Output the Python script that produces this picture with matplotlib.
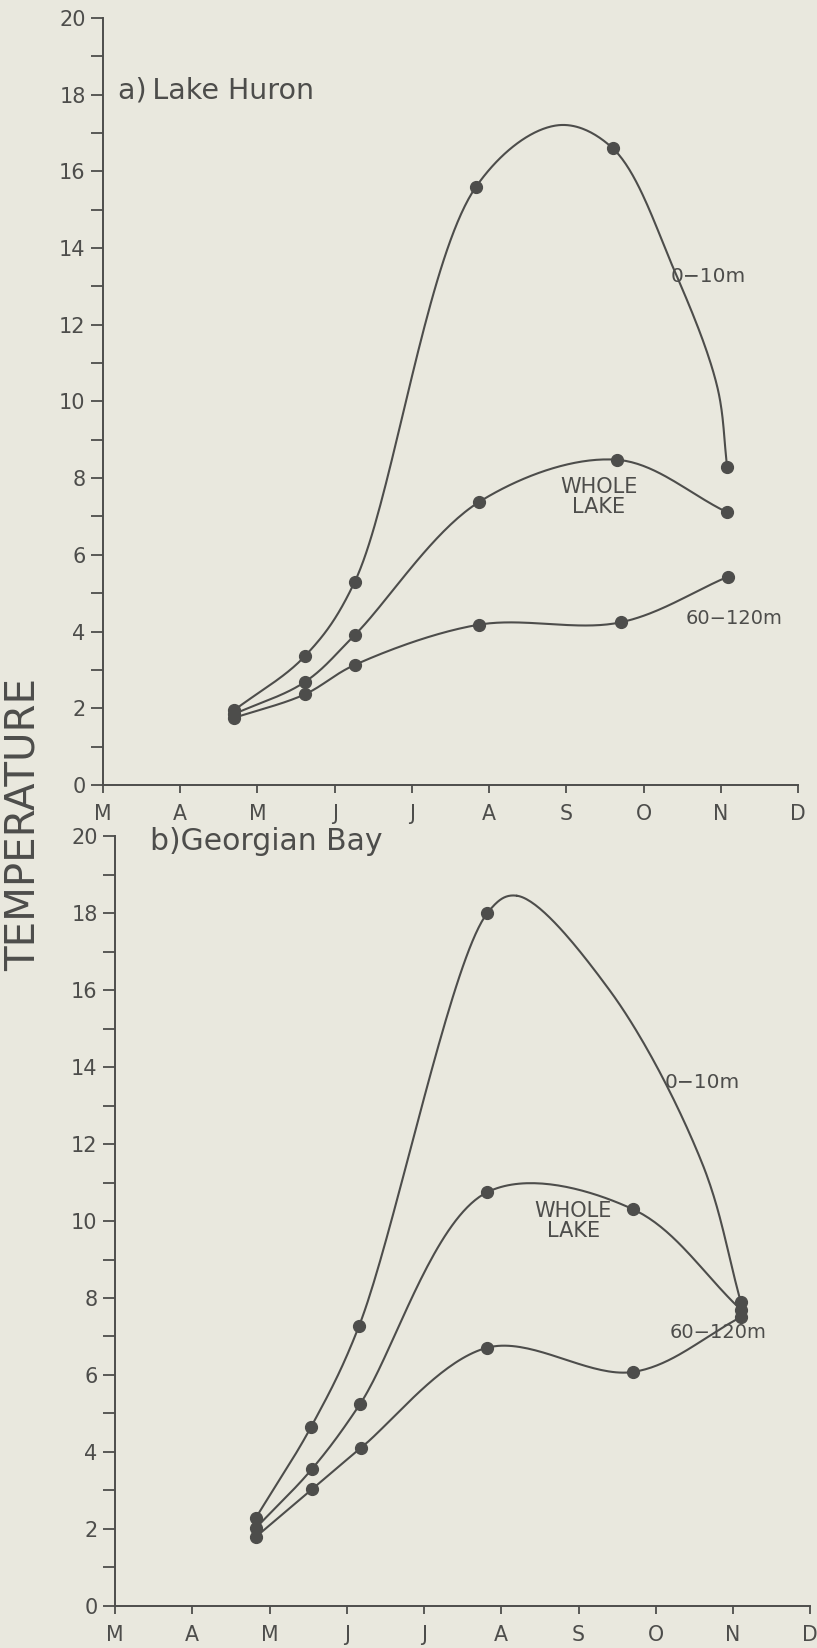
import numpy as np
import matplotlib
matplotlib.use("Agg")
import matplotlib.pyplot as plt

plt.rcParams['font.family'] = ['DejaVu Sans']

months = ["M", "A", "M", "J", "J", "A", "S", "O", "N", "D"]

# x in months after 1 March, y in degrees C
# a) Lake Huron
huron_surf_x = [1.70, 2.61, 3.26, 4.83, 6.60, 8.08]
huron_surf_y = [1.95, 3.35, 5.30, 15.6, 16.6, 8.3]
huron_whole_x = [1.70, 2.61, 3.26, 4.87, 6.65, 8.08]
huron_whole_y = [1.85, 2.68, 3.91, 7.38, 8.48, 7.11]
huron_deep_x = [1.70, 2.61, 3.26, 4.87, 6.70, 8.09]
huron_deep_y = [1.75, 2.36, 3.13, 4.18, 4.24, 5.43]
huron_surf_line_x = [5.88, 7.40, 7.95]
huron_surf_line_y = [17.2, 13.4, 10.4]

# b) Georgian Bay
bay_surf_x = [1.82, 2.54, 3.16, 4.82, 8.10]
bay_surf_y = [2.28, 4.66, 7.28, 18.0, 7.9]
bay_whole_x = [1.82, 2.55, 3.17, 4.82, 6.71, 8.10]
bay_whole_y = [2.02, 3.56, 5.24, 10.75, 10.3, 7.7]
bay_deep_x = [1.82, 2.55, 3.18, 4.82, 6.71, 8.10]
bay_deep_y = [1.79, 3.03, 4.10, 6.71, 6.08, 7.5]
bay_surf_line_x = [5.20, 6.40, 7.60]
bay_surf_line_y = [18.45, 16.0, 11.5]

ink = "#4d4d4b"
paper = "#e9e8de"


def smooth(xs, ys, n=40, sx=2.0):
    # centripetal Catmull-Rom through the points
    P = np.column_stack([np.asarray(xs) * sx, np.asarray(ys)])
    P = np.vstack([2 * P[0] - P[1], P, 2 * P[-1] - P[-2]])
    out = []
    for i in range(1, len(P) - 2):
        p0, p1, p2, p3 = P[i - 1], P[i], P[i + 1], P[i + 2]
        t0 = 0.0
        t1 = t0 + np.linalg.norm(p1 - p0) ** 0.5
        t2 = t1 + np.linalg.norm(p2 - p1) ** 0.5
        t3 = t2 + np.linalg.norm(p3 - p2) ** 0.5
        t = np.linspace(t1, t2, n)[:, None]
        a1 = (t1 - t) / (t1 - t0) * p0 + (t - t0) / (t1 - t0) * p1
        a2 = (t2 - t) / (t2 - t1) * p1 + (t - t1) / (t2 - t1) * p2
        a3 = (t3 - t) / (t3 - t2) * p2 + (t - t2) / (t3 - t2) * p3
        b1 = (t2 - t) / (t2 - t0) * a1 + (t - t0) / (t2 - t0) * a2
        b2 = (t3 - t) / (t3 - t1) * a2 + (t - t1) / (t3 - t1) * a3
        c = (t2 - t) / (t2 - t1) * b1 + (t - t1) / (t2 - t1) * b2
        out.append(c)
    out = np.vstack(out)
    return out[:, 0] / sx, out[:, 1]


def curve(ax, x, y, lx=(), ly=()):
    px = list(x) + list(lx)
    py = list(y) + list(ly)
    order = np.argsort(px)
    cx, cy = smooth(np.array(px)[order], np.array(py)[order])
    ax.plot(cx, cy, color=ink, lw=1.5, solid_capstyle="round")
    ax.plot(x, y, "o", color=ink, ms=8.5, mec=ink)


def style(ax):
    ax.set_xlim(0, 9)
    ax.set_ylim(0, 20)
    for s in ["top", "right"]:
        ax.spines[s].set_visible(False)
    for s in ["left", "bottom"]:
        ax.spines[s].set_color(ink)
        ax.spines[s].set_linewidth(1.4)
    ax.set_yticks(range(0, 21, 2))
    ax.set_yticks(range(1, 20, 2), minor=True)
    ax.set_xticks(range(10))
    ax.set_xticklabels(months)
    ax.tick_params(axis="y", which="both", direction="out", length=8.5, width=1.3,
                   color=ink, labelcolor=ink, labelsize=15, pad=4)
    ax.tick_params(axis="x", direction="out", length=6, width=1.3, color=ink,
                   labelcolor=ink, labelsize=14.8, pad=8)
    ax.patch.set_alpha(0)


fig = plt.figure(figsize=(8.17, 16.48), dpi=100)
fig.patch.set_facecolor(paper)

ax1 = fig.add_axes([0.126, 0.5237, 0.851, 0.4654])
ax2 = fig.add_axes([0.1408, 0.0255, 0.851, 0.4672])
style(ax1)
style(ax2)

curve(ax1, huron_surf_x, huron_surf_y, huron_surf_line_x, huron_surf_line_y)
curve(ax1, huron_whole_x, huron_whole_y)
curve(ax1, huron_deep_x, huron_deep_y)

curve(ax2, bay_surf_x, bay_surf_y, bay_surf_line_x, bay_surf_line_y)
curve(ax2, bay_whole_x, bay_whole_y)
curve(ax2, bay_deep_x, bay_deep_y)

tkw = dict(color=ink)
ax1.text(0.19, 18.1, "a)\u2009Lake Huron", fontsize=20.5, va="center", ha="left", **tkw)
ax1.text(7.35, 13.25, "0\u221210m", fontsize=14.5, va="center", ha="left", **tkw)
ax1.text(6.42, 7.5, "WHOLE\nLAKE", fontsize=15, va="center", ha="center",
         linespacing=1.0, **tkw)
ax1.text(7.54, 4.35, "60\u2212120m", fontsize=14, va="center", ha="left", **tkw)

ax2.text(0.45, 19.85, "b)Georgian Bay", fontsize=21.5, va="center", ha="left", **tkw)
ax2.text(7.12, 13.6, "0\u221210m", fontsize=14.5, va="center", ha="left", **tkw)
ax2.text(5.93, 10.0, "WHOLE\nLAKE", fontsize=15, va="center", ha="center",
         linespacing=1.0, **tkw)
ax2.text(7.18, 7.1, "60\u2212120m", fontsize=14, va="center", ha="left", **tkw)

fig.text(0.029, 0.4994, "TEMPERATURE", rotation=90, fontsize=29, color=ink,
         va="center", ha="center")

fig.savefig("out.png", dpi=100, facecolor=paper)
